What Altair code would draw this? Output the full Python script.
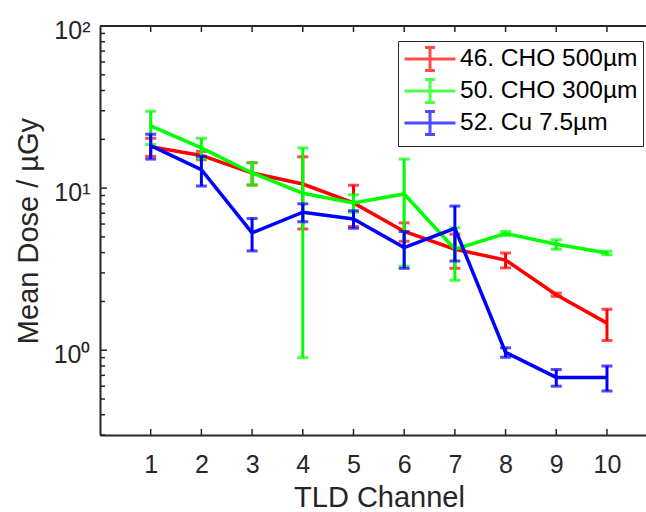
import altair as alt
import pandas as pd

channels = [1, 2, 3, 4, 5, 6, 7, 8, 9, 10]
series_names = ["46. CHO 500µm", "50. CHO 300µm", "52. Cu 7.5µm"]
series_colors = ["#ff0000", "#00ff00", "#0000ff"]

red_mean = [18.0, 15.9, 12.4, 10.6, 8.1, 5.4, 4.2, 3.6, 2.2, 1.47]
red_err = [2.3, 0.95, 1.95, 5.0, 2.3, 0.7, 1.0, 0.38, 0.05, 0.32]
green_mean = [24.2, 17.7, 12.4, 9.3, 8.1, 9.2, 4.2, 5.25, 4.5, 3.98]
green_err = [5.6, 2.6, 1.95, 8.4, 1.0, 5.9, 1.5, 0.15, 0.3, 0.1]
blue_mean = [18.3, 13.0, 5.3, 7.1, 6.45, 4.3, 5.65, 0.97, 0.68, 0.68]
blue_err = [3.2, 2.7, 1.2, 0.9, 0.8, 1.1, 2.1, 0.065, 0.08, 0.12]

y_major = [1, 10, 100]
x_ticks = channels

rows = []
for name, means, errs in zip(series_names, [red_mean, green_mean, blue_mean],
                             [red_err, green_err, blue_err]):
    for c, m, e in zip(channels, means, errs):
        rows.append(dict(series=name, channel=c, dose=m, lo=m - e, hi=m + e))
df = pd.DataFrame(rows)

W, H = 546, 409
FONT = "Liberation Sans"
TXT = "#262626"

x_scale = alt.Scale(domain=[0, 10.77], nice=False, zero=False)
y_scale = alt.Scale(type="log", domain=[0.3, 100], nice=False)

x_axis = alt.Axis(title="TLD Channel", values=x_ticks, tickSize=0, grid=False,
                  domainColor=TXT, domainWidth=2, labelFont=FONT, labelFontSize=25,
                  labelColor=TXT, labelPadding=17, titleFont=FONT, titleFontSize=29,
                  titleFontWeight="normal", titleColor=TXT, titleX=279, titleY=71,
                  titleBaseline="alphabetic")
y_axis = alt.Axis(title="Mean Dose / µGy", values=y_major, tickSize=0, grid=False,
                  domainColor=TXT, domainWidth=2, labelFont=FONT, labelFontSize=25,
                  labelColor=TXT, labelPadding=10, labelOffset=4,
                  labelExpr="datum.value == 100 ? '10²' : datum.value == 10 ? '10¹' : '10⁰'",
                  titleFont=FONT, titleFontSize=29, titleFontWeight="normal",
                  titleColor=TXT, titleX=-63, titleY=H / 2, titleBaseline="alphabetic")


def X(field):
    return alt.X(field, type="quantitative", scale=x_scale, axis=x_axis)


def Y(field):
    return alt.Y(field, type="quantitative", scale=y_scale, axis=y_axis)


legend_path = "M-2.217,0H2.217M0,-1V1M-0.43,-1H0.43M-0.43,1H0.43"
color = alt.Color("series:N",
                  scale=alt.Scale(domain=series_names, range=series_colors),
                  legend=alt.Legend(orient="none", legendX=298, legendY=15, title=None,
                                    symbolType=legend_path, symbolSize=529,
                                    symbolStrokeWidth=3, symbolFillColor="transparent",
                                    labelFont=FONT, labelFontSize=24.5, labelColor="black",
                                    labelLimit=0,
                                    strokeColor=TXT, fillColor="white", padding=5,
                                    rowPadding=-4, symbolOffset=14, labelOffset=17))

layers = []
for name in series_names:
    base = alt.Chart(df).transform_filter(alt.datum.series == name)
    layers.append(base.mark_rule(strokeWidth=3).encode(x=X("channel"), y=Y("lo"), y2="hi", color=color))
    layers.append(base.mark_tick(thickness=3, size=11, orient="horizontal").encode(
        x=X("channel"), y=Y("lo"), color=color))
    layers.append(base.mark_tick(thickness=3, size=11, orient="horizontal").encode(
        x=X("channel"), y=Y("hi"), color=color))
    layers.append(base.mark_line(strokeWidth=3.5).encode(x=X("channel"), y=Y("dose"), color=color))

# inward tick marks (MATLAB style box axes)
minor_vals = [m * 10 ** e for e in (-1, 0, 1) for m in range(2, 10) if 0.3 <= m * 10 ** e <= 100]
layers.append(alt.Chart(pd.DataFrame({"v": minor_vals})).mark_rule(color=TXT, strokeWidth=1.5).encode(
    y=Y("v"), x=alt.value(0), x2=alt.value(5)))
layers.append(alt.Chart(pd.DataFrame({"v": y_major})).mark_rule(color=TXT, strokeWidth=1.5).encode(
    y=Y("v"), x=alt.value(0), x2=alt.value(7)))
xtk = pd.DataFrame({"c": x_ticks})
layers.append(alt.Chart(xtk).mark_rule(color=TXT, strokeWidth=1.5).encode(
    x=X("c"), y=alt.value(H), y2=alt.value(H - 6)))
layers.append(alt.Chart(xtk).mark_rule(color=TXT, strokeWidth=1.5).encode(
    x=X("c"), y=alt.value(0), y2=alt.value(6)))
layers.append(alt.Chart(pd.DataFrame({"a": [0]})).mark_rule(color=TXT, strokeWidth=2).encode(
    x=alt.value(0), x2=alt.value(W), y=alt.value(0)))

chart = alt.layer(*layers).properties(
    width=W, height=H,
    padding={"left": 100, "top": 26, "right": 0, "bottom": 77},
    autosize=alt.AutoSizeParams(type="none"),
).configure_view(stroke=None)

chart.save("out.html", embed_options={"renderer": "svg", "actions": False})
